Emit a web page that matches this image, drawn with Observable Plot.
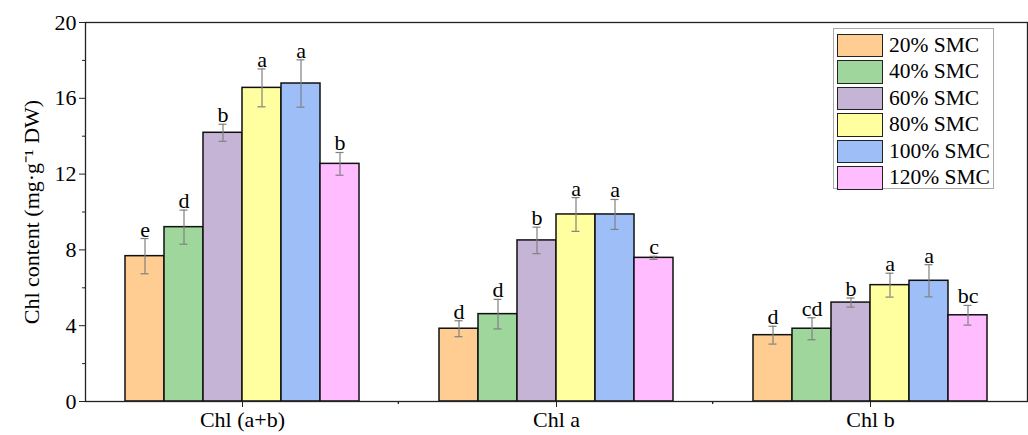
<!DOCTYPE html>
<html><head><meta charset="utf-8">
<script src="https://cdn.jsdelivr.net/npm/d3@7"></script>
<script src="https://cdn.jsdelivr.net/npm/@observablehq/plot@0.6"></script>
<style>
body{margin:0;background:#fff;}
#wrap{position:relative;width:1028px;height:435px;}
.legend{position:absolute;left:833px;top:28px;width:161px;height:161px;border:1px solid #aaa;background:#fff;font-family:"Liberation Serif",serif;font-size:21.5px;color:#000;box-sizing:border-box;padding-top:3px;}
.row{display:flex;align-items:center;height:26.5px;}
.sw{width:46px;height:23.5px;border:1.5px solid #222;margin-left:3px;margin-right:6px;box-sizing:border-box;}
</style></head><body><div id="wrap"></div>
<script>
const groups = ["Chl (a+b)", "Chl a", "Chl b"];
const series = ["20% SMC", "40% SMC", "60% SMC", "80% SMC", "100% SMC", "120% SMC"];
const colors = ["#FFCC91", "#9ED69C", "#C6B4D6", "#FFFFA0", "#9EBEF7", "#FFBCFF"];
const meanAB = [7.67, 9.20, 14.18, 16.55, 16.78, 12.54];
const sdAB   = [0.93, 0.90, 0.45, 1.00, 1.25, 0.60];
const letAB  = ["e", "d", "b", "a", "a", "b"];
const meanA  = [3.84, 4.61, 8.50, 9.87, 9.87, 7.58];
const sdA    = [0.42, 0.78, 0.70, 0.89, 0.79, 0.08];
const letA   = ["d", "d", "b", "a", "a", "c"];
const meanB  = [3.50, 3.84, 5.22, 6.14, 6.37, 4.55];
const sdB    = [0.47, 0.58, 0.24, 0.63, 0.85, 0.52];
const letB   = ["d", "cd", "b", "a", "a", "bc"];
const yTicks = [0, 4, 8, 12, 16, 20];
const yMinor = [2, 6, 10, 14, 18];

const means = [meanAB, meanA, meanB], sds = [sdAB, sdA, sdB], lets = [letAB, letA, letB];
const rows = groups.flatMap((g, gi) => series.map((s, si) => ({
  group: g, series: s, mean: means[gi][si], sd: sds[gi][si], letter: lets[gi][si],
  lo: means[gi][si] - sds[gi][si], hi: means[gi][si] + sds[gi][si]
})));

const plot = Plot.plot({
  width: 1028, height: 435,
  marginLeft: 84, marginRight: 1, marginTop: 22, marginBottom: 34,
  style: {fontFamily: "'Liberation Serif', serif", fontSize: "22px", color: "#000", background: "#fff"},
  fx: {domain: groups, paddingInner: 0, paddingOuter: 0, label: null},
  x: {domain: series, paddingInner: 0, paddingOuter: 0.98, axis: null},
  y: {domain: [0, 20]},
  color: {domain: series, range: colors},
  marks: [
    Plot.barY(rows, {fx: "group", x: "series", y: "mean", fill: "series", stroke: "#111", strokeWidth: 1.5}),
    Plot.ruleX(rows, {fx: "group", x: "series", y1: "lo", y2: "hi", stroke: "#808080", strokeWidth: 1.2}),
    Plot.tickY(rows, {fx: "group", x: "series", y: "lo", stroke: "#808080", strokeWidth: 1.2, insetLeft: 15.5, insetRight: 15.5}),
    Plot.tickY(rows, {fx: "group", x: "series", y: "hi", stroke: "#808080", strokeWidth: 1.2, insetLeft: 15.5, insetRight: 15.5}),
    Plot.text(rows, {fx: "group", x: "series", y: "hi", text: "letter", lineAnchor: "bottom", dy: -2, fontSize: 22, fill: "#000"}),
    Plot.frame({facet: "super", stroke: "#222", strokeWidth: 1.3}),
    Plot.axisY({ticks: yTicks, tickSize: 6, tickPadding: 3, tickFormat: d => String(d), fontSize: 22,
      label: "Chl content (mg·g⁻¹ DW)", labelAnchor: "center", labelArrow: "none", labelOffset: 62, stroke: "#222"}),
    Plot.axisY({ticks: yMinor, tickSize: 3, tickFormat: () => "", label: null, stroke: "#222"}),
    Plot.axisFx({anchor: "bottom", tickSize: 6, tickPadding: 4, fontSize: 22, label: null, stroke: "#222"})
  ]
});
const wrap = document.getElementById("wrap");
wrap.appendChild(plot);

// minor ticks at group boundaries, from the fx scale
const fx = plot.scale("fx");
const yS = plot.scale("y");
const svg = d3.select(plot.tagName === "svg" ? plot : plot.querySelector("svg"));
const xStart = fx.range[0], xEnd = fx.range[1];
const step = (xEnd - xStart) / groups.length;
const y0 = yS.range[0];
for (let i = 1; i < groups.length; i++) {
  svg.append("line").attr("x1", xStart + i * step).attr("x2", xStart + i * step)
    .attr("y1", y0).attr("y2", y0 + 3).attr("stroke", "#222").attr("stroke-width", 1.3);
}

// legend
const leg = document.createElement("div");
leg.className = "legend";
series.forEach((s, i) => {
  const r = document.createElement("div"); r.className = "row";
  const sw = document.createElement("div"); sw.className = "sw"; sw.style.background = colors[i];
  const t = document.createElement("span"); t.textContent = s;
  r.appendChild(sw); r.appendChild(t); leg.appendChild(r);
});
wrap.appendChild(leg);
</script></body></html>
